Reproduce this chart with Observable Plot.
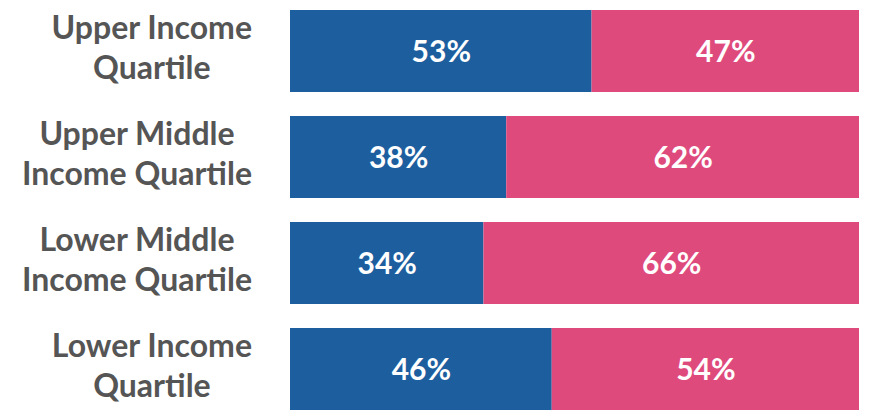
<!DOCTYPE html>
<html>
<head>
<meta charset="utf-8">
<script src="https://cdn.jsdelivr.net/npm/d3@7"></script>
<script src="https://cdn.jsdelivr.net/npm/@observablehq/plot@0.6"></script>
<style>
  html, body { margin: 0; padding: 0; background: #fff; }
  #chart svg { display: block; }
</style>
</head>
<body>
<div id="chart"></div>
<script>
const categories = [
  "Upper Income\nQuartile",
  "Upper Middle\nIncome Quartile",
  "Lower Middle\nIncome Quartile",
  "Lower Income\nQuartile"
];
const seriesNames = ["Series A", "Series B"];
const seriesAValues = [53, 38, 34, 46];
const seriesBValues = [47, 62, 66, 54];
const colors = ["#1d5e9f", "#df4a7d"];

const data = [];
categories.forEach((c, i) => {
  data.push({category: c, series: seriesNames[0], value: seriesAValues[i]});
  data.push({category: c, series: seriesNames[1], value: seriesBValues[i]});
});

const stackOpts = {x: "value", y: "category", z: "series", order: seriesNames};

const chart = Plot.plot({
  width: 879,
  height: 414,
  marginLeft: 290,
  marginRight: 20,
  marginTop: 6,
  marginBottom: 1,
  style: {fontFamily: "Lato, 'Open Sans', sans-serif", background: "#fff"},
  x: {domain: [0, 100], axis: null},
  y: {domain: categories, paddingInner: 0.23, paddingOuter: 0.03, label: null},
  color: {type: "ordinal", domain: seriesNames, range: colors},
  marks: [
    Plot.barX(data, Plot.stackX({...stackOpts, fill: "series"})),
    Plot.text(data, Plot.stackX({
      ...stackOpts,
      text: d => d.value + "%",
      fill: "white",
      fontSize: 30,
      fontWeight: "bold",
      dy: 1
    })),
    Plot.axisY({
      tickSize: 0,
      fontSize: 32,
      fontWeight: "bold",
      fill: "#555",
      lineHeight: 1.25,
      tickPadding: 35,
      dy: -5
    })
  ]
});

document.getElementById("chart").appendChild(chart);

// Center the lines of each category label within a block right-aligned at rightEdge
const rightEdge = 252;
const svgLeft = chart.getBoundingClientRect().left;
chart.querySelectorAll("[aria-label='y-axis tick label'] text").forEach(t => {
  const spans = t.querySelectorAll("tspan");
  let w = 0;
  spans.forEach(s => { w = Math.max(w, s.getComputedTextLength()); });
  if (!spans.length) w = t.getComputedTextLength();
  t.setAttribute("text-anchor", "middle");
  const r = t.getBoundingClientRect();
  const cur = r.left - svgLeft + r.width / 2;
  const desired = rightEdge - w / 2;
  const delta = desired - cur;
  const tr = t.getAttribute("transform") || "";
  t.setAttribute("transform", `translate(${delta},0) ${tr}`);
});
</script>
</body>
</html>
